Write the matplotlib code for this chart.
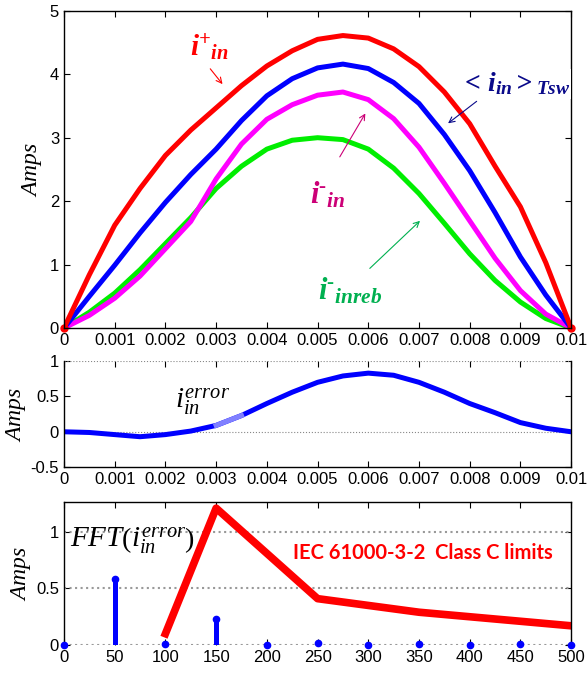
import numpy as np
import matplotlib.pyplot as plt

plt.rcParams['font.family'] = ['Liberation Sans', 'DejaVu Sans']
plt.rcParams['mathtext.fontset'] = 'custom'
plt.rcParams['mathtext.rm'] = 'Liberation Serif'
plt.rcParams['mathtext.it'] = 'Liberation Serif:italic'
plt.rcParams['mathtext.bf'] = 'Liberation Serif:italic:bold'

# time axis (half mains period), read every 0.5 ms
t = [0, 0.0005, 0.001, 0.0015, 0.002, 0.0025, 0.003, 0.0035, 0.004, 0.0045, 0.005,
     0.0055, 0.006, 0.0065, 0.007, 0.0075, 0.008, 0.0085, 0.009, 0.0095, 0.01]
i_plus = [0, 0.84, 1.62, 2.2, 2.72, 3.12, 3.47, 3.82, 4.13, 4.37, 4.55,
          4.61, 4.57, 4.4, 4.12, 3.72, 3.22, 2.55, 1.91, 1.03, 0]
i_avg = [0, 0.5, 0.99, 1.5, 1.98, 2.42, 2.82, 3.27, 3.66, 3.93, 4.1,
         4.16, 4.09, 3.87, 3.54, 3.05, 2.48, 1.82, 1.12, 0.52, 0]
i_minus = [0, 0.2, 0.47, 0.82, 1.25, 1.68, 2.35, 2.9, 3.29, 3.52, 3.67,
           3.72, 3.6, 3.3, 2.85, 2.28, 1.69, 1.1, 0.59, 0.22, 0]
i_inreb = [0, 0.25, 0.55, 0.92, 1.33, 1.74, 2.2, 2.55, 2.82, 2.96, 3.0,
           2.97, 2.82, 2.52, 2.12, 1.65, 1.17, 0.75, 0.41, 0.15, 0]
i_error = [0, -0.01, -0.04, -0.07, -0.04, 0.01, 0.09, 0.23, 0.4, 0.56, 0.7,
           0.79, 0.83, 0.8, 0.7, 0.56, 0.4, 0.27, 0.13, 0.05, 0]

# spectrum of the error current
harm_f = [0, 50, 100, 150, 200, 250, 300, 350, 400, 450, 500]
harm_a = [0, 0.58, 0.01, 0.23, 0, 0.02, 0, 0.01, 0, 0.01, 0]
lim_f = [100, 150, 250, 350, 450, 500]
lim_a = [0.1, 1.21, 0.41, 0.29, 0.21, 0.17]

t_ticks = [0, 0.001, 0.002, 0.003, 0.004, 0.005, 0.006, 0.007, 0.008, 0.009, 0.01]
t_labels = ['0', '0.001', '0.002', '0.003', '0.004', '0.005', '0.006', '0.007',
            '0.008', '0.009', '0.01']


def style_axes(ax):
    ax.tick_params(direction='in', top=True, right=True, length=4, width=0.8,
                   labelsize=12)
    for s in ax.spines.values():
        s.set_linewidth(1.0)


fig = plt.figure(figsize=(5.87, 6.75), dpi=100)
L, W = 0.109, 0.864

# ---- top panel
ax1 = fig.add_axes([L, 0.514, W, 0.470])
ax1.plot(t, i_inreb, color='#00ee00', lw=3.6, solid_capstyle='round')
ax1.plot(t, i_minus, color='#ff00ff', lw=3.6, solid_capstyle='round')
ax1.plot(t, i_avg, color='#0000ff', lw=3.6, solid_capstyle='round')
ax1.plot(t, i_plus, color='#ff0000', lw=3.6, solid_capstyle='round')
ax1.plot([t[0], t[-1]], [i_plus[0], i_plus[-1]], 'o', color='#ff0000', ms=5,
         clip_on=False)
ax1.set_xlim(0, 0.01)
ax1.set_ylim(0, 5)
ax1.set_xticks(t_ticks)
ax1.set_xticklabels(t_labels)
ax1.set_yticks([0, 1, 2, 3, 4, 5])
style_axes(ax1)
ax1.set_ylabel(r'$\mathit{Amps}$', fontsize=17, labelpad=4)

ax1.text(0.00248, 4.42, r'$\mathbf{i^{+}{}_{in}}$', color='#ff0000', fontsize=21,
         va='center', ha='left')
ax1.annotate('', xy=(0.00316, 3.81), xytext=(0.00285, 4.12),
             arrowprops=dict(arrowstyle='->', color='#ff0000', lw=0.8))
ax1.text(0.0078, 3.85, r'$\mathbf{<\,i_{in}>_{Tsw}}$', color='#0a0a8a', fontsize=20,
         va='center', ha='left', clip_on=False,
         bbox=dict(facecolor='white', edgecolor='none', pad=1))
ax1.annotate('', xy=(0.00753, 3.2), xytext=(0.00818, 3.6),
             arrowprops=dict(arrowstyle='->', color='#0a0a8a', lw=0.8))
ax1.text(0.00485, 2.1, r'$\mathbf{i^{\text{-}}{}_{in}}$', color='#cc0077', fontsize=22,
         va='center', ha='left')
ax1.annotate('', xy=(0.00597, 3.42), xytext=(0.00541, 2.66),
             arrowprops=dict(arrowstyle='->', color='#cc0077', lw=0.8))
ax1.text(0.005, 0.58, r'$\mathbf{i^{\text{-}}{}_{inreb}}$', color='#00b050', fontsize=22,
         va='center', ha='left')
ax1.annotate('', xy=(0.00706, 1.72), xytext=(0.00599, 0.91),
             arrowprops=dict(arrowstyle='->', color='#00b050', lw=0.8))

# ---- middle panel
ax2 = fig.add_axes([L, 0.308, W, 0.157])
ax2.axhline(0, color='#888888', lw=0.8, ls=':')
ax2.axhline(1, color='#888888', lw=0.8, ls=':')
ax2.plot(t, i_error, color='#0000ff', lw=3.6, solid_capstyle='round')
ax2.plot(t[6:8], i_error[6:8], color='#8080ff', lw=3.6)
ax2.set_xlim(0, 0.01)
ax2.set_ylim(-0.5, 1)
ax2.set_xticks(t_ticks)
ax2.set_xticklabels(t_labels)
ax2.set_yticks([-0.5, 0, 0.5, 1])
ax2.set_yticklabels(['-0.5', '0', '0.5', '1'])
style_axes(ax2)
ax2.spines['top'].set_visible(False)
ax2.set_ylabel(r'$\mathit{Amps}$', fontsize=17, labelpad=2)
ax2.text(0.00218, 0.42, r'$i_{in}^{error}$', fontsize=21, va='center', ha='left')

# ---- bottom panel
ax3 = fig.add_axes([L, 0.0444, W, 0.212])
for yv in [0, 0.5, 1]:
    ax3.axhline(yv, color='#999999', lw=1.5, ls=':')
ax3.vlines(harm_f, 0, harm_a, color='#0000ff', lw=3.6)
ax3.plot(harm_f, harm_a, 'o', color='#0000ff', ms=4.5, clip_on=False, zorder=5)
ax3.plot(lim_f, lim_a, color='#ff0000', lw=5.5)
ax3.set_xlim(0, 500)
ax3.set_ylim(0, 1.265)
ax3.set_xticks(harm_f)
ax3.set_yticks([0, 0.5, 1])
ax3.set_yticklabels(['0', '0.5', '1'])
style_axes(ax3)
ax3.spines['bottom'].set_visible(False)
ax3.set_ylabel(r'$\mathit{Amps}$', fontsize=17, labelpad=2)
ax3.text(6, 0.92, r'$FFT\left(i_{in}^{error}\right)$', fontsize=21,
         va='center', ha='left')
ax3.text(226, 0.81, 'IEC 61000-3-2  Class C limits', color='#ff0000',
         fontsize=14.5, fontweight='bold', family=['Lato', 'DejaVu Sans'],
         va='center', ha='left')

fig.savefig('out.png', dpi=100)
